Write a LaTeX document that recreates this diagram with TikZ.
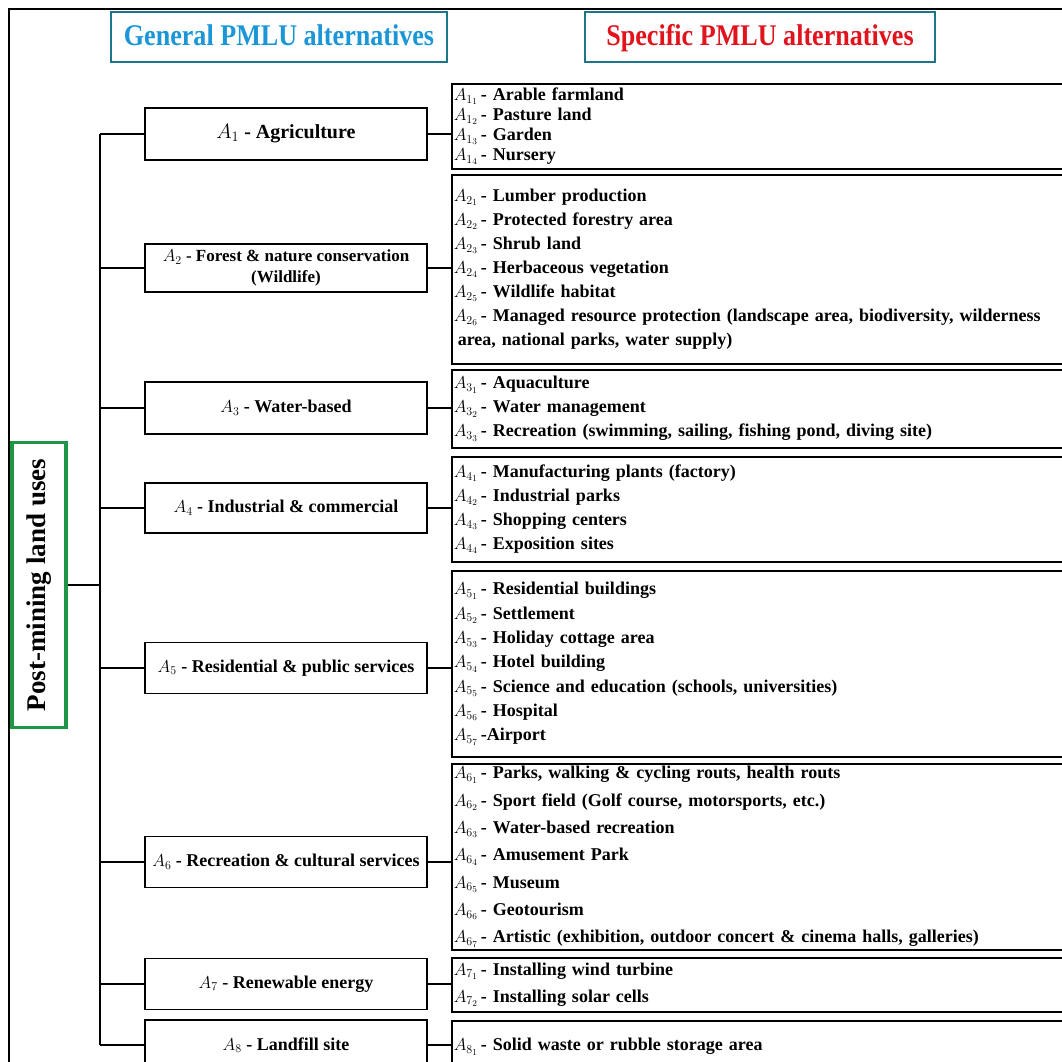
\documentclass[tikz,border=0pt]{standalone}
\usepackage{fontspec}
\setmainfont{Liberation Serif}
\newfontfamily\headfont{Liberation Serif}[FakeStretch=0.87]
\usepackage{xcolor}

\definecolor{headteal}{RGB}{28,118,138}
\definecolor{genblue}{RGB}{27,150,215}
\definecolor{specred}{RGB}{225,20,30}
\definecolor{rootgreen}{RGB}{30,150,70}

% label of one specific alternative
\newcommand{\spc}[2]{$A_{#1_{#2}}$\,-}

\begin{document}
\begin{tikzpicture}[x=1pt,y=-1pt,
  head/.style={draw=headteal, line width=2.8pt, minimum height=50pt,
    text height=19pt, text depth=1pt,
    font=\headfont\bfseries\fontsize{30}{32}\selectfont},
  root/.style={draw=rootgreen, line width=3.4pt, rotate=90,
    minimum width=285pt, minimum height=54pt,
    font=\bfseries\fontsize{27}{30}\selectfont},
  gen/.style={draw, line width=1.6pt, minimum width=282pt, align=center,
    inner sep=1pt, font=\bfseries\fontsize{18}{21}\selectfont},
  spec/.style={draw, line width=1.6pt, anchor=north west, text width=700pt,
    align=left, inner xsep=2pt, inner ysep=0pt},
  link/.style={line width=1.6pt}]

% ============================================================
% page and frame
% ============================================================

\def\TrunkX{100}    % x of the vertical trunk
\def\SpecX{451}     % left edge of the specific boxes

\useasboundingbox (0,0) rectangle (1062,1062);
\clip (0,0) rectangle (1062,1062);
\fill[white] (0,0) rectangle (1062,1062);
\draw[line width=1.8pt] (9,9) rectangle (1200,1200);

% ============================================================
% headers
% ============================================================

\node[head, minimum width=336pt, text=genblue] (hgen) at (279,37) {General PMLU alternatives};
\node[head, minimum width=350pt, text=specred] (hspec) at (760,37) {Specific PMLU alternatives};

% ============================================================
% root
% ============================================================

\node[root] (root) at (39,585) {Post-mining land uses};
\coordinate (trunk) at (\TrunkX,585);

% ============================================================
% general alternatives
% ============================================================

\node[gen, minimum height=52pt, font=\bfseries\fontsize{20}{22}\selectfont] (g1) at (286,134) {$A_1$ - Agriculture};
\node[gen, minimum height=48pt, font=\bfseries\fontsize{17}{21}\selectfont] (g2) at (286,268) {$A_2$ - Forest \& nature conservation\\(Wildlife)};
\node[gen, minimum height=52pt] (g3) at (286,408) {$A_3$ - Water-based};
\node[gen, minimum height=50pt] (g4) at (286,508) {$A_4$ - Industrial \& commercial};
\node[gen, minimum height=51pt] (g5) at (286,668) {$A_5$ - Residential \& public services};
\node[gen, minimum height=51pt] (g6) at (286,862) {$A_6$ - Recreation \& cultural services};
\node[gen, minimum height=51pt] (g7) at (286,984) {$A_7$ - Renewable energy};
\node[gen, minimum height=50pt] (g8) at (286,1045) {$A_8$ - Landfill site};

% ============================================================
% specific alternatives
% ============================================================

\node[spec, minimum height=85pt, font=\bfseries\fontsize{18}{20}\selectfont] (s1) at (\SpecX,83) {%
  \spc{1}{1} Arable farmland\\
  \spc{1}{2} Pasture land\\
  \spc{1}{3} Garden\\
  \spc{1}{4} Nursery};

\node[spec, minimum height=189pt, font=\bfseries\fontsize{18}{24}\selectfont] (s2) at (\SpecX,174) {%
  \spc{2}{1} Lumber production\\
  \spc{2}{2} Protected forestry area\\
  \spc{2}{3} Shrub land\\
  \spc{2}{4} Herbaceous vegetation\\
  \spc{2}{5} Wildlife habitat\\
  \spc{2}{6} Managed resource protection (landscape area, biodiversity, wilderness\\
  \hspace*{4pt}area, national parks, water supply)};

\node[spec, minimum height=78pt, font=\bfseries\fontsize{18}{24}\selectfont] (s3) at (\SpecX,369) {%
  \spc{3}{1} Aquaculture\\
  \spc{3}{2} Water management\\
  \spc{3}{3} Recreation (swimming, sailing, fishing pond, diving site)};

\node[spec, minimum height=105pt, font=\bfseries\fontsize{18}{24}\selectfont] (s4) at (\SpecX,456) {%
  \spc{4}{1} Manufacturing plants (factory)\\
  \spc{4}{2} Industrial parks\\
  \spc{4}{3} Shopping centers\\
  \spc{4}{4} Exposition sites};

\node[spec, minimum height=186pt, font=\bfseries\fontsize{18}{24.3}\selectfont] (s5) at (\SpecX,570) {%
  \spc{5}{1} Residential buildings\\
  \spc{5}{2} Settlement\\
  \spc{5}{3} Holiday cottage area\\
  \spc{5}{4} Hotel building\\
  \spc{5}{5} Science and education (schools, universities)\\
  \spc{5}{6} Hospital\\
  $A_{5_7}$\,-Airport};

\node[spec, minimum height=186pt, font=\bfseries\fontsize{18}{27.3}\selectfont] (s6) at (\SpecX,763) {%
  \spc{6}{1} Parks, walking \& cycling routs, health routs\\
  \spc{6}{2} Sport field (Golf course, motorsports, etc.)\\
  \spc{6}{3} Water-based recreation\\
  \spc{6}{4} Amusement Park\\
  \spc{6}{5} Museum\\
  \spc{6}{6} Geotourism\\
  \spc{6}{7} Artistic (exhibition, outdoor concert \& cinema halls, galleries)};

\node[spec, minimum height=54pt, font=\bfseries\fontsize{18}{27}\selectfont] (s7) at (\SpecX,957) {%
  \spc{7}{1} Installing wind turbine\\
  \spc{7}{2} Installing solar cells};

\node[spec, minimum height=52pt, font=\bfseries\fontsize{18}{24}\selectfont] (s8) at (\SpecX,1020) {%
  \spc{8}{1} Solid waste or rubble storage area};

% ============================================================
% connectors
% ============================================================

\draw[link] (root.south) -- (root.south -| trunk);
\draw[link] (g1.west -| trunk) -- (g8.west -| trunk);

\foreach \k in {1,...,8} {
  \draw[link] (g\k.west) -- (g\k.west -| trunk);
  \draw[link] (g\k.east) -- (g\k.east -| s\k.west);
}

\end{tikzpicture}
\end{document}
